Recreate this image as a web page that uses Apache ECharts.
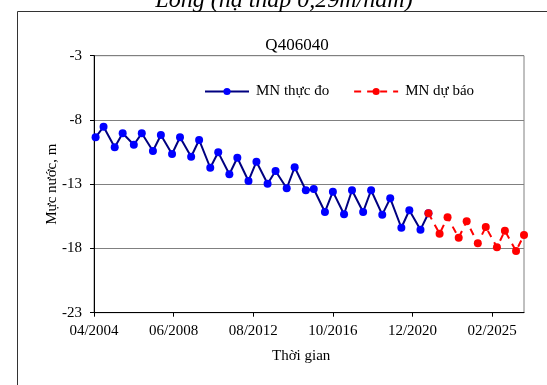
<!DOCTYPE html>
<html>
<head>
<meta charset="utf-8">
<script src="https://cdn.jsdelivr.net/npm/echarts@6/dist/echarts.min.js"></script>
<style>
  html, body { margin: 0; padding: 0; background: #fff; }
  #chart { width: 547px; height: 385px; }
</style>
</head>
<body>
<div id="chart"></div>
<script>
// ==============================
// data
// ==============================
const measuredDates = [
  '05/2004', '10/2004', '05/2005', '10/2005', '05/2006', '10/2006',
  '05/2007', '10/2007', '05/2008', '10/2008', '05/2009', '10/2009',
  '05/2010', '10/2010', '05/2011', '10/2011', '05/2012', '10/2012',
  '05/2013', '10/2013', '05/2014', '10/2014', '05/2015', '10/2015',
  '05/2016', '10/2016', '05/2017', '10/2017', '05/2018', '10/2018',
  '05/2019', '10/2019', '05/2020', '10/2020', '05/2021', '10/2021'
];
const measuredLevels = [
  -9.35, -8.53, -10.13, -9.04, -9.93, -9.04,
  -10.42, -9.17, -10.65, -9.35, -10.86, -9.56,
  -11.72, -10.52, -12.23, -10.94, -12.75, -11.25,
  -12.96, -11.97, -13.32, -11.68, -13.47, -13.37,
  -15.16, -13.58, -15.34, -13.47, -15.16, -13.47,
  -15.37, -14.10, -16.39, -15.03, -16.54, -15.26
];

const forecastDates = [
  '10/2021', '05/2022', '10/2022', '05/2023', '10/2023', '05/2024',
  '10/2024', '05/2025', '10/2025', '05/2026', '10/2026'
];
const forecastLevels = [
  -15.26, -16.85, -15.58, -17.16, -15.89, -17.60,
  -16.33, -17.91, -16.62, -18.20, -16.95
];

// x axis counts months from 04/2004
const startYear = 2004;
const startMonth = 4;

const FONT = 'Liberation Serif';

// 'MM/YYYY' -> months since 04/2004
function toMonths(s) {
  const [mm, yy] = s.split('/').map(Number);
  return (yy - startYear) * 12 + (mm - startMonth);
}
function monthLabel(v) {
  const t = startMonth - 1 + Math.round(v);
  const m = (t % 12) + 1;
  const y = startYear + Math.floor(t / 12);
  return (m < 10 ? '0' + m : '' + m) + '/' + y;
}

const measured = measuredDates.map((d, i) => [toMonths(d), measuredLevels[i]]);
const forecast = forecastDates.map((d, i) => [toMonths(d), forecastLevels[i]]);

// ==============================
// chart
// ==============================
const chart = echarts.init(document.getElementById('chart'));

chart.setOption({
  animation: false,
  backgroundColor: '#fff',
  title: [
    {
      text: 'Q406040',
      left: 292, top: 32, textAlign: 'center',
      textStyle: { fontFamily: FONT, fontSize: 17, fontWeight: 'normal', color: '#000' }
    },
    {
      text: 'Long (hạ thấp 0,29m/năm)',
      left: 279, top: -16, textAlign: 'center',
      textStyle: { fontFamily: FONT, fontSize: 24, fontStyle: 'italic', fontWeight: 'normal', color: '#000' }
    }
  ],
  graphic: [
    {
      type: 'rect',
      shape: { x: 17.5, y: 11.5, width: 600, height: 450 },
      style: { fill: 'none', stroke: '#333', lineWidth: 1 },
      silent: true
    },
    {
      type: 'text',
      left: 272, top: 349,
      style: { text: 'Thời gian', font: '15px "Liberation Serif"', fill: '#000', textAlign: 'center' }
    }
  ],
  legend: {
    left: 199, top: 79,
    itemWidth: 44, itemHeight: 9, itemGap: 24,
    textStyle: { fontFamily: FONT, fontSize: 15, color: '#000', padding: [0, 0, 0, 2] },
    data: ['MN thực đo', 'MN dự báo']
  },
  grid: {
    left: 94, right: 23, top: 55.7, bottom: 72.3,
    show: true, borderColor: '#808080', borderWidth: 1
  },
  xAxis: {
    type: 'value',
    min: 0, max: 270, interval: 50,
    axisLine: { show: true, onZero: false, lineStyle: { color: '#000', width: 1 } },
    axisTick: { show: true, length: 4, lineStyle: { color: '#000' } },
    splitLine: { show: false },
    axisLabel: {
      fontFamily: FONT, fontSize: 15, color: '#000', margin: 11,
      showMaxLabel: false,
      formatter: monthLabel
    }
  },
  yAxis: {
    type: 'value',
    min: -23, max: -3, interval: 5,
    name: 'Mực nước, m',
    nameLocation: 'middle',
    nameGap: 34,
    nameMoveOverlap: false,
    nameTextStyle: { fontFamily: FONT, fontSize: 15, color: '#000' },
    axisLine: { show: true, onZero: false, lineStyle: { color: '#000', width: 1 } },
    axisTick: { show: true, length: 4, lineStyle: { color: '#000' } },
    splitLine: { show: true, lineStyle: { color: '#808080', width: 1 } },
    axisLabel: { fontFamily: FONT, fontSize: 15, color: '#000', margin: 12 }
  },
  series: [
    {
      name: 'MN thực đo',
      type: 'line',
      data: measured,
      clip: false,
      symbol: 'circle',
      symbolSize: 8,
      lineStyle: { color: '#000080', width: 2 },
      itemStyle: { color: '#0000FF' }
    },
    {
      name: 'MN dự báo',
      type: 'line',
      data: forecast,
      clip: false,
      symbol: 'circle',
      symbolSize: 8,
      lineStyle: { color: '#FF0000', width: 2, type: [7, 6] },
      itemStyle: { color: '#FF0000' }
    }
  ]
});
</script>
</body>
</html>
